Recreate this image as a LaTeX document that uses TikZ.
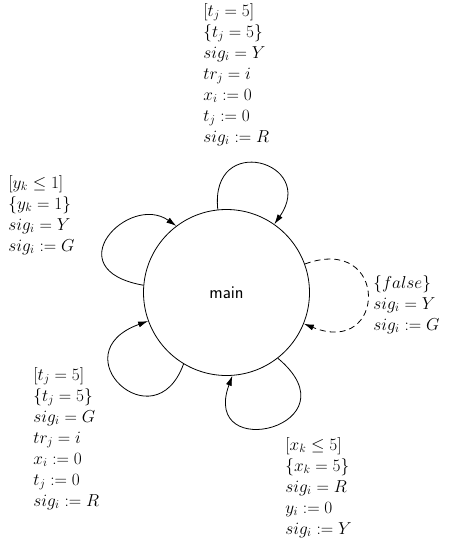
\documentclass[tikz,border=0pt]{standalone}
\usetikzlibrary{arrows.meta}
\begin{document}
\begin{tikzpicture}[x=1pt,y=1pt,
  every path/.style={line width=0.8pt},
  arr/.style={-{Latex[length=10pt,width=6pt]}},
  lbl/.style={anchor=north west,inner sep=0pt,align=left,font=\fontsize{18}{21}\selectfont},
  loc/.style={draw,circle,minimum size=166pt,inner sep=0pt,font=\sffamily\fontsize{18}{21}\selectfont}]
\useasboundingbox (0,0) rectangle (462,-550);
\node[loc] (m) at (226.5,-292.5) {main};
% loops
\draw[arr] (m.96) .. controls +(96:79) and +(55:76) .. (m.55);
\draw[arr] (m.175) .. controls +(170:90) and +(145:58) .. (m.127);
\draw[arr,dash pattern=on 6pt off 4pt] (m.20) .. controls +(20:90) and +(-22:90) .. (m.-22);
\draw[arr] (m.-121) .. controls +(-110:85) and +(200:95) .. (m.200);
\draw[arr] (m.-52) .. controls +(-40:105) and +(-110:95) .. (m.-86);
% labels
\node[lbl] (ltop) at (203,-3) {$[t_j = 5]$\\ $\{t_j = 5\}$\\ $sig_i = Y$\\ $tr_j = i$\\ $x_i := 0$\\ $t_j := 0$\\ $sig_i := R$};
\node[lbl] (lul) at (8,-175) {$[y_k \le 1]$\\ $\{y_k = 1\}$\\ $sig_i = Y$\\ $sig_i := G$};
\node[lbl] (lr) at (373,-275) {$\{false\}$\\ $sig_i = Y$\\ $sig_i := G$};
\node[lbl] (lll) at (33,-367) {$[t_j = 5]$\\ $\{t_j = 5\}$\\ $sig_i = G$\\ $tr_j = i$\\ $x_i := 0$\\ $t_j := 0$\\ $sig_i := R$};
\node[lbl] (lbr) at (285,-437) {$[x_k \le 5]$\\ $\{x_k = 5\}$\\ $sig_i = R$\\ $y_i := 0$\\ $sig_i := Y$};
\end{tikzpicture}
\end{document}
